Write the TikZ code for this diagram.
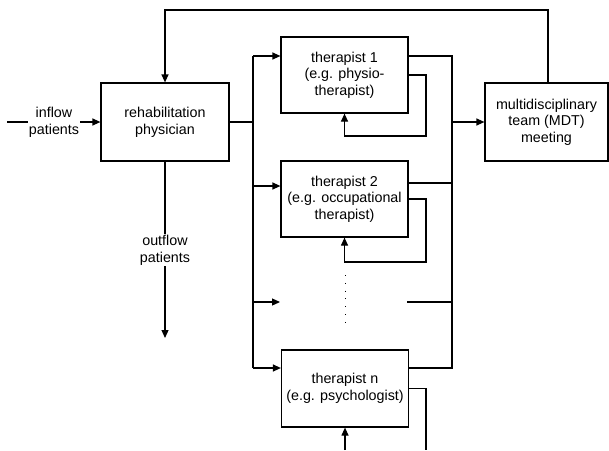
\documentclass[tikz,border=0pt]{standalone}
\usepackage{fontspec}
\setmainfont{Liberation Sans}
\usetikzlibrary{arrows.meta}
\begin{document}
\begin{tikzpicture}[x=1pt, y=-1pt,
  font=\fontsize{14.3}{16.7}\selectfont,
  box/.style={draw, line width=1.2pt, align=center, inner sep=0pt},
  wire/.style={line width=1.2pt},
  flow/.style={line width=1.2pt, -{Triangle[length=8pt,width=7pt]}},
  lbl/.style={fill=white, align=center, inner sep=1pt}]
\useasboundingbox (0,0) rectangle (609,450);
% boxes
\node[box, minimum width=128pt, minimum height=78pt] (rehab) at (165,122) {rehabilitation\\physician};
\node[box, minimum width=127pt, minimum height=76pt] (t1) at (344.5,75) {therapist 1\\(e.g. physio-\\therapist)};
\node[box, minimum width=127pt, minimum height=76pt] (t2) at (344.5,199) {therapist 2\\(e.g. occupational\\therapist)};
\node[box, minimum width=127pt, minimum height=77pt] (tn) at (345,388.5) {therapist n\\(e.g. psychologist)};
\node[box, minimum width=123pt, minimum height=78pt] (mdt) at (546.5,122) {multidisciplinary\\team (MDT)\\meeting};
% free ends
\coordinate (in) at (7,122);
\coordinate (out) at (165,338);
\coordinate (top) at (548,10);
\coordinate (split) at (253,122);
\coordinate (in1) at (253,56);
\coordinate (in2) at (253,186);
\coordinate (in3) at (253,302);
\coordinate (in3e) at (280,302);
\coordinate (inn) at (253,368);
\coordinate (join) at (452,122);
\coordinate (out1) at (452,56);
\coordinate (out2) at (452,183);
\coordinate (out3) at (452,302);
\coordinate (out3s) at (407,302);
\coordinate (outn) at (452,368);
\coordinate (l1) at (426,136);
\coordinate (l2) at (426,262);
\coordinate (ln) at (426,450);
\coordinate (lnb) at (345,450);
\coordinate (dota) at (345,275);
\coordinate (dotb) at (345,328);
% inflow, outflow and feedback
\draw[flow] (in) -- (rehab.west);
\node[lbl] (inlbl) at (54,122) {inflow\\patients};
\draw[flow] (rehab.south) -- (out);
\node[lbl] (outlbl) at (165,250) {outflow\\patients};
\draw[flow] (mdt.north -| top) -- (top) -| (rehab.north);
% to the therapists
\draw[wire] (rehab.east) -- (split);
\draw[wire] (in1) -- (inn);
\draw[flow] (in1) -- (in1 -| t1.west);
\draw[flow] (in2) -- (in2 -| t2.west);
\draw[flow] (in3) -- (in3e);
\draw[flow] (inn) -- (inn -| tn.west);
% from the therapists
\draw[wire] (out1 -| t1.east) -- (out1) -- (outn) -- (outn -| tn.east);
\draw[wire] (out2 -| t2.east) -- (out2);
\draw[wire] (out3s) -- (out3);
\draw[flow] (join) -- (mdt.west);
% loops
\draw[flow] (t1.east) -| (l1) -| (t1.south);
\draw[flow] (t2.east) -| (l2) -| (t2.south);
\draw[wire] (tn.east) -| (ln);
\draw[flow] (lnb) -- (tn.south);
\draw[line width=0.8pt, dash pattern=on 0.8pt off 7pt] (dota) -- (dotb);
\end{tikzpicture}
\end{document}
